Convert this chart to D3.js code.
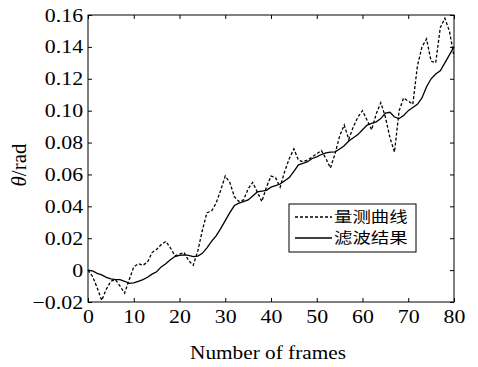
<!DOCTYPE html>
<html>
<head>
<meta charset="utf-8">
<script src="https://cdn.jsdelivr.net/npm/d3@7"></script>
<style>
  body { margin: 0; background: #fff; }
  svg { display: block; }
</style>
</head>
<body>
<svg id="chart" width="478" height="367"></svg>
<script>
// Frame index 0..80
const frames = d3.range(0, 81);

// Measured angle (rad) per frame
const measured = [
  0.000, -0.004, -0.011, -0.019, -0.012, -0.007, -0.006, -0.010, -0.0145, -0.006,
  0.002, 0.004, 0.003, 0.005, 0.011, 0.013, 0.016, 0.018, 0.014, 0.009,
  0.010, 0.011, 0.006, 0.003, 0.012, 0.025, 0.036, 0.037, 0.042, 0.050,
  0.059, 0.055, 0.046, 0.043, 0.044, 0.051, 0.055, 0.049, 0.043, 0.052,
  0.059, 0.058, 0.052, 0.062, 0.070, 0.076, 0.069, 0.068, 0.069, 0.071,
  0.073, 0.075, 0.070, 0.064, 0.073, 0.084, 0.091, 0.082, 0.090, 0.096,
  0.100, 0.094, 0.088, 0.098, 0.105, 0.096, 0.083, 0.074, 0.100, 0.108,
  0.106, 0.104, 0.128, 0.140, 0.145, 0.131, 0.130, 0.152, 0.158, 0.150,
  0.134
];

// Filtered estimate (rad) per frame
const filtered = [
  0.000, -0.0005, -0.002, -0.003, -0.0045, -0.0055, -0.006, -0.006, -0.007, -0.0083,
  -0.008, -0.007, -0.006, -0.0045, -0.0025, -0.001, 0.002, 0.004, 0.0065, 0.0085,
  0.0092, 0.0095, 0.0093, 0.0085, 0.0088, 0.0105, 0.014, 0.018, 0.0215, 0.026,
  0.031, 0.036, 0.0405, 0.042, 0.043, 0.044, 0.0465, 0.049, 0.0495, 0.050,
  0.052, 0.053, 0.054, 0.056, 0.058, 0.062, 0.066, 0.067, 0.068, 0.070,
  0.071, 0.0725, 0.0735, 0.074, 0.0742, 0.076, 0.078, 0.081, 0.083, 0.085,
  0.088, 0.091, 0.092, 0.093, 0.095, 0.0985, 0.099, 0.096, 0.095, 0.097,
  0.100, 0.102, 0.104, 0.108, 0.115, 0.120, 0.123, 0.125, 0.130, 0.135,
  0.140
];

const xTicks = [0, 10, 20, 30, 40, 50, 60, 70, 80];
const yTicks = [-0.02, 0, 0.02, 0.04, 0.06, 0.08, 0.10, 0.12, 0.14, 0.16];
const yTickLabels = ["\u22120.02", "0", "0.02", "0.04", "0.06", "0.08", "0.10", "0.12", "0.14", "0.16"];
const legendLabels = ["量测曲线", "滤波结果"];
const xTitle = "Number of frames";

// Layout
const plot = { left: 88, right: 454, top: 15, bottom: 302 };
const stretch = 1.15;                 // wide Latin glyphs
const latinFont = "'Liberation Serif', 'Times New Roman', serif";
const cjkFont = "'Noto Sans CJK SC', sans-serif";

const svg = d3.select("#chart");

const x = d3.scaleLinear().domain([0, 80]).range([plot.left, plot.right]);
const y = d3.scaleLinear().domain([-0.02, 0.16]).range([plot.bottom, plot.top]);

// Frame
svg.append("rect")
  .attr("x", plot.left).attr("y", plot.top)
  .attr("width", plot.right - plot.left).attr("height", plot.bottom - plot.top)
  .attr("fill", "none").attr("stroke", "#000").attr("stroke-width", 1);

function styleAxis(g) {
  g.select(".domain").remove();
  g.selectAll(".tick line").attr("stroke", "#000").attr("stroke-width", 1);
  g.selectAll(".tick text")
    .attr("fill", "#000")
    .style("font-family", latinFont)
    .style("font-size", "19px");
}

// Bottom axis with labels
const gx = svg.append("g")
  .attr("transform", `translate(0,${plot.bottom})`)
  .call(d3.axisBottom(x).tickValues(xTicks).tickFormat(d3.format("d"))
    .tickSizeInner(-4).tickSizeOuter(0).tickPadding(7.5));
styleAxis(gx);
gx.selectAll(".tick text").attr("transform", `scale(${stretch},1)`);

// Left axis with labels
const gy = svg.append("g")
  .attr("transform", `translate(${plot.left},0)`)
  .call(d3.axisLeft(y).tickValues(yTicks).tickFormat((d, i) => yTickLabels[i])
    .tickSizeInner(-4).tickSizeOuter(0).tickPadding(4.3));
styleAxis(gy);
gy.selectAll(".tick text").attr("transform", `scale(${stretch},1)`);

// Mirrored ticks on top and right
const gt = svg.append("g")
  .attr("transform", `translate(0,${plot.top})`)
  .call(d3.axisTop(x).tickValues(xTicks).tickFormat("").tickSizeInner(-4).tickSizeOuter(0));
styleAxis(gt);
const gr = svg.append("g")
  .attr("transform", `translate(${plot.right},0)`)
  .call(d3.axisRight(y).tickValues(yTicks).tickFormat("").tickSizeInner(-4).tickSizeOuter(0));
styleAxis(gr);

// Curves
const line = d3.line().x((d, i) => x(frames[i])).y(d => y(d));

svg.append("path")
  .datum(measured)
  .attr("d", line)
  .attr("fill", "none").attr("stroke", "#000")
  .attr("stroke-width", 1.3).attr("stroke-dasharray", "3,2");

svg.append("path")
  .datum(filtered)
  .attr("d", line)
  .attr("fill", "none").attr("stroke", "#000")
  .attr("stroke-width", 1.3);

// Axis titles
svg.append("g")
  .attr("transform", `translate(268,359) scale(${stretch},1)`)
  .append("text")
  .attr("text-anchor", "middle")
  .style("font-family", latinFont).style("font-size", "18.5px")
  .text(xTitle);

const yt = svg.append("text")
  .attr("transform", "translate(26,165) rotate(-90)")
  .attr("text-anchor", "middle")
  .style("font-family", latinFont).style("font-size", "21px");
yt.append("tspan").style("font-style", "italic").text("θ");
yt.append("tspan").text("/rad");

// Legend
const legend = svg.append("g");
legend.append("rect")
  .attr("x", 289).attr("y", 204).attr("width", 127).attr("height", 48)
  .attr("fill", "#fff").attr("stroke", "#000").attr("stroke-width", 1);

const rows = [
  { label: legendLabels[0], dash: "3,2", cy: 217 },
  { label: legendLabels[1], dash: null, cy: 238 }
];
rows.forEach(r => {
  legend.append("line")
    .attr("x1", 295).attr("x2", 332).attr("y1", r.cy).attr("y2", r.cy)
    .attr("stroke", "#000").attr("stroke-width", 1.3)
    .attr("stroke-dasharray", r.dash);
  legend.append("g")
    .attr("transform", `translate(334,${r.cy + 5.3}) scale(1.27,1)`)
    .append("text")
    .style("font-family", cjkFont).style("font-size", "14.5px")
    .attr("fill", "#000")
    .text(r.label);
});
</script>
</body>
</html>
